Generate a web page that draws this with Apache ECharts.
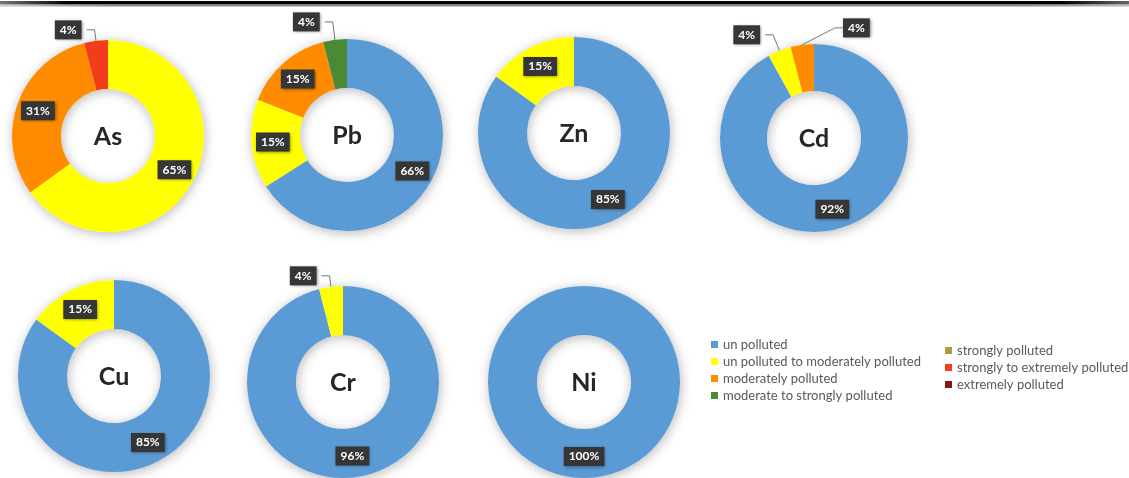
<!DOCTYPE html>
<html><head><meta charset="utf-8">
<script src="https://cdn.jsdelivr.net/npm/echarts@6/dist/echarts.min.js"></script>
<style>html,body{margin:0;padding:0;background:#fff}#c{width:1129px;height:478px}</style>
</head><body><div id="c"></div>
<script>
// ---- data ----
const categories = ['un polluted', 'un polluted to moderately polluted', 'moderately polluted',
  'moderate to strongly polluted', 'strongly polluted', 'strongly to extremely polluted', 'extremely polluted'];
const elements = ['As', 'Pb', 'Zn', 'Cd', 'Cu', 'Cr', 'Ni'];
const As = [0, 65, 31, 0, 0, 4, 0];
const Pb = [66, 15, 15, 4, 0, 0, 0];
const Zn = [85, 15, 0, 0, 0, 0, 0];
const Cd = [92, 4, 4, 0, 0, 0, 0];
const Cu = [85, 15, 0, 0, 0, 0, 0];
const Cr = [96, 4, 0, 0, 0, 0, 0];
const Ni = [100, 0, 0, 0, 0, 0, 0];
const valuesByElement = { As, Pb, Zn, Cd, Cu, Cr, Ni };

// ---- style / layout ----
const colors = ['#5b9bd5', '#ffff00', '#ff8c00', '#4a8a34', '#b39b3a', '#f23c1c', '#8b1414'];
const centers = { As: [108, 136], Pb: [347, 135], Zn: [574, 133], Cd: [814, 138], Cu: [114, 376], Cr: [343, 382], Ni: [584, 382] };
const outerR = { As: 96, Pb: 96, Zn: 96, Cd: 94, Cu: 96, Cr: 96, Ni: 96 };
const leadLen = { As: 11, Pb: 18, Zn: 10, Cd: 17, Cu: 10, Cr: 11, Ni: 10 };
const innerR = 47;
const FONT = 'Lato, "Open Sans", sans-serif';

const labelBox = {
  color: '#fff', fontFamily: FONT, fontWeight: 'bold', fontSize: 12,
  backgroundColor: '#363636', padding: [4, 5, 3, 5],
  shadowBlur: 3, shadowColor: 'rgba(0,0,0,0.45)', shadowOffsetX: 1, shadowOffsetY: 1
};

const series = [];
const graphics = [];
elements.forEach(function (el) {
  const vals = valuesByElement[el];
  const c = centers[el];
  const R = outerR[el];
  series.push({
    type: 'pie', z: 1, silent: true, center: c, radius: [innerR, R],
    label: { show: false }, labelLine: { show: false },
    itemStyle: { color: '#fff', shadowBlur: 12, shadowColor: 'rgba(0,0,0,0.28)', shadowOffsetX: 1, shadowOffsetY: 2 },
    data: [{ name: '_bg_' + el, value: 1 }]
  });
  const s = {
    type: 'pie', z: 2, name: el, center: c, radius: [innerR, R], startAngle: 90, clockwise: true,
    avoidLabelOverlap: false, emphasis: { disabled: true },
    label: Object.assign({ position: 'inside', formatter: '{c}%' }, labelBox),
    labelLine: { show: false, length: 10, length2: 10, lineStyle: { color: '#777', width: 1 } },
    data: categories.map(function (n, i) {
      const v = vals[i];
      const item = { name: n, value: v, itemStyle: { color: colors[i] } };
      if (v === 0) {
        item.label = { show: false };
        item.labelLine = { show: false };
      } else if (v <= 5) {
        item.label = { show: true, position: 'outside' };
        item.labelLine = { show: true, length: leadLen[el], length2: 8 };
      }
      return item;
    })
  };
  if (el === 'Cd') {
    s.labelLayout = function (p) {
      if (p.dataIndex === 2) {
        return { x: c[0] + 29, y: p.labelRect.y + p.labelRect.height / 2, align: 'left', verticalAlign: 'middle' };
      }
    };
  }
  series.push(s);
  graphics.push({
    type: 'text', x: c[0], y: c[1] + 1, z: 10,
    style: { text: el, fill: '#262626', font: 'bold 25px ' + FONT, align: 'center', verticalAlign: 'middle' }
  });
});

// header double rule
graphics.push({
  type: 'rect', shape: { x: 0, y: 1, width: 1129, height: 3.5 }, z: 10,
  style: { fill: new echarts.graphic.LinearGradient(0, 0, 1, 0, [
    { offset: 0, color: '#777' }, { offset: 0.06, color: '#000' }, { offset: 0.94, color: '#000' }, { offset: 1, color: '#666' }]) }
});
graphics.push({
  type: 'rect', shape: { x: 0, y: 5, width: 1129, height: 1.5 }, z: 10,
  style: { fill: new echarts.graphic.LinearGradient(0, 0, 1, 0, [
    { offset: 0, color: '#ccc' }, { offset: 0.1, color: '#888' }, { offset: 0.9, color: '#888' }, { offset: 1, color: '#bbb' }]) }
});

const legendCommon = {
  orient: 'vertical', icon: 'rect', itemWidth: 7, itemHeight: 7, itemGap: 4,
  selectedMode: false,
  textStyle: { color: '#595959', fontFamily: FONT, fontSize: 13 }
};

const chart = echarts.init(document.getElementById('c'));
chart.setOption({
  backgroundColor: '#fff',
  animation: false,
  legend: [
    Object.assign({ left: 706, top: 333, data: categories.slice(0, 4) }, legendCommon),
    Object.assign({ left: 940, top: 339, data: categories.slice(4) }, legendCommon)
  ],
  graphic: graphics,
  series: series
});
</script></body></html>
